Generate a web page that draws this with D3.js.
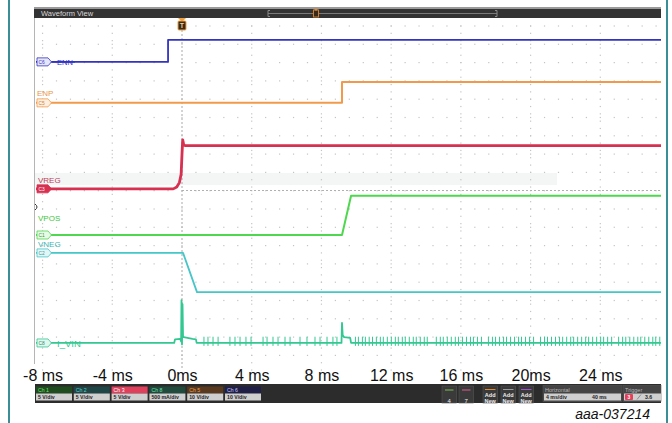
<!DOCTYPE html>
<html><head><meta charset="utf-8">
<script src="https://cdn.jsdelivr.net/npm/d3@7"></script>
<style>
body{margin:0;background:#fff}
svg{display:block}
text{font-family:"Liberation Sans",Arial,sans-serif}
</style>
</head><body>
<svg id="c" width="672" height="423"></svg>
<script>
// ---------- data ----------
const tickTimes  = [-8, -4, 0, 4, 8, 12, 16, 20, 24];
const tickLabels = ["-8 ms", "-4 ms", "0ms", "4 ms", "8 ms", "12 ms", "16 ms", "20ms", "24 ms"];

// trace positions in graticule divisions (0 = top grid row), time in ms
const ennT  = [-8.4, -0.8, -0.8, 27.5];
const ennV  = [0.98, 0.98, 0.38, 0.38];
const enpT  = [-8.4, 9.18, 9.18, 27.5];
const enpV  = [2.10, 2.10, 1.53, 1.53];
const vregT = [-8.4, -0.5, -0.3, -0.15, -0.05, 0.0, 0.04, 0.1, 0.2, 27.5];
const vregV = [4.45, 4.45, 4.40, 4.28, 4.05, 3.50, 3.11, 3.25, 3.27, 3.27];
const vposT = [-8.4, 9.18, 9.70, 27.5];
const vposV = [5.71, 5.71, 4.64, 4.64];
const vnegT = [-8.4, 0.06, 0.86, 27.5];
const vnegV = [6.20, 6.20, 7.27, 7.27];
const ivinT = [-8.4, -0.45, -0.40, -0.10, -0.05, -0.03, 0.00, 0.03, 0.06, 0.10, 0.60, 0.80, 0.84, 9.15, 9.18, 9.22, 9.30, 9.65, 9.70, 27.5];
const ivinV = [8.66, 8.66, 8.56, 8.55, 8.62, 7.49, 8.70, 7.60, 8.50, 8.50, 8.55, 8.56, 8.66, 8.66, 8.11, 8.45, 8.50, 8.52, 8.66, 8.66];
// switching spikes on I_VIN (ms)
const ivinSpikes = [1.26, 1.49, 1.78, 2.07, 2.75, 3.04, 3.33, 3.67, 3.96, 4.65, 4.88, 5.22, 5.51, 5.91, 6.20, 6.77, 7.17, 7.63, 7.92, 8.32, 8.66, 8.89,
  9.95, 10.12, 10.35, 10.52, 10.74, 10.93, 11.15, 11.38, 11.55, 11.78, 12.01, 12.24, 12.41, 12.64, 12.81, 13.04, 13.27, 13.44, 13.67, 13.90, 14.07,
  14.59, 14.82, 14.99, 15.22, 15.45, 15.68, 15.86, 16.09, 16.32, 16.55, 16.72, 16.95, 17.18, 17.58, 17.81, 17.99, 18.22, 18.45, 18.62, 18.85,
  19.08, 19.31, 19.48, 19.71, 19.94, 20.17, 20.57, 20.80, 20.97, 21.20, 21.43, 21.66, 21.84, 22.07, 22.30, 22.47, 22.70, 22.93, 23.16, 23.33,
  23.56, 23.79, 24.02, 24.19, 24.42, 24.65, 25.05, 25.28, 25.46, 25.69, 25.92, 26.15, 26.32, 26.55, 26.78, 27.01, 27.18, 27.41];

const chanNames  = ["ENN", "ENP", "VREG", "VPOS", "VNEG", "I_VIN"];
const chanIds    = ["C6", "C5", "C3", "C1", "C2", "C8"];
const chanColors = ["#3333c2", "#f29a4c", "#d83050", "#4fd84f", "#46c6c8", "#33c892"];

const barNames  = ["Ch 1", "Ch 2", "Ch 3", "Ch 8", "Ch 5", "Ch 6"];
const barScales = ["5 V/div", "5 V/div", "5 V/div", "500 mA/div", "10 V/div", "10 V/div"];
const barFills  = ["#1f4d1f", "#1f4646", "#e0405c", "#1f4a3c", "#5a3a1e", "#1f1f48"];
const barText   = ["#70e070", "#5ad0d0", "#ffffff", "#70e0b0", "#f0a050", "#c8c8ff"];

// ---------- layout ----------
const svg = d3.select("#c");
const L = 35, R = 661, T = 18, B = 372;
const x = d3.scaleLinear().domain([(L - 182) / 17.43, (R - 182) / 17.43]).range([L, R]);
const y = d3.scaleLinear().domain([0, 9.5]).range([26, 373.7]);

// teal frame lines
svg.append("rect").attr("x", 8).attr("y", 0).attr("width", 2).attr("height", 423).attr("fill", "#3a8f96");
svg.append("rect").attr("x", 666).attr("y", 0).attr("width", 2).attr("height", 423).attr("fill", "#3a8f96");

// header
svg.append("rect").attr("x", 34).attr("y", 7).attr("width", R - 34).attr("height", 2).attr("fill", "#9a9a9a");
svg.append("rect").attr("x", 34).attr("y", 9).attr("width", R - 34).attr("height", 9).attr("fill", "#333");
svg.append("text").attr("x", 41).attr("y", 16).attr("font-size", 7.5).attr("fill", "#d8d8d8").text("Waveform View");
svg.append("line").attr("x1", 268).attr("x2", 497).attr("y1", 13.5).attr("y2", 13.5).attr("stroke", "#7a7a7a").attr("stroke-width", 1.2);
svg.append("path").attr("d", "M270,10.5 H268 V16.5 H270 M495,10.5 H497 V16.5 H495").attr("fill", "none").attr("stroke", "#8a8a8a");
svg.append("rect").attr("x", 313.5).attr("y", 10).attr("width", 5).attr("height", 7).attr("fill", "#3a2a1a").attr("stroke", "#d08030");
svg.append("path").attr("d", "M314,9 L318,9 L316,11 Z").attr("fill", "#e08a30");

// panel left border
svg.append("line").attr("x1", 34.5).attr("x2", 34.5).attr("y1", 18).attr("y2", 364).attr("stroke", "#b5b5b5");

// faint band
svg.append("rect").attr("x", L).attr("y", 173).attr("width", 522).attr("height", 12).attr("fill", "#f4f5f5");

// graticule dots
const gridG = svg.append("g");
const rowDivs = d3.range(0, 19).map(k => k * 0.5);
const colStep = 0.8; // ms
const colTimes = d3.range(Math.ceil(x.domain()[0] / colStep), Math.floor(x.domain()[1] / colStep) + 1).map(k => k * colStep);
const dots = [];
rowDivs.forEach(r => colTimes.forEach(t => dots.push([x(t), y(r)])));
const majorTimes = tickTimes.filter(t => t !== 0);
majorTimes.forEach(t => d3.range(0, 19 * 2.5).forEach(k => { const yy = y(k * 0.2); if (yy < B) dots.push([x(t), yy]); }));
gridG.selectAll("rect").data(dots.filter(d => d[1] > T && d[1] < B)).join("rect")
  .attr("x", d => d[0] - 0.6).attr("y", d => d[1] - 0.6).attr("width", 1.2).attr("height", 1.2).attr("fill", "#c4c4c4");

// trigger dashed line + reference dashed line
svg.append("line").attr("x1", x(0)).attr("x2", x(0)).attr("y1", 30).attr("y2", 368)
  .attr("stroke", "#a8a8a8").attr("stroke-dasharray", "2,2");
svg.append("line").attr("x1", x(0)).attr("x2", R).attr("y1", 190.5).attr("y2", 190.5)
  .attr("stroke", "#b0b0b0").attr("stroke-dasharray", "2,2");

// traces
svg.append("clipPath").attr("id", "pc").append("rect").attr("x", 36).attr("y", T).attr("width", R - 36).attr("height", B - T);
const line = d3.line().x(d => x(d[0])).y(d => y(d[1]));
const traces = [[ennT, ennV], [enpT, enpV], [vregT, vregV], [vposT, vposV], [vnegT, vnegV], [ivinT, ivinV]];
const widths = [1.8, 2, 2.8, 2, 1.8, 1.8];
const tg = svg.append("g").attr("clip-path", "url(#pc)");
traces.forEach((tr, i) => {
  tg.append("path").datum(tr[0].map((t, j) => [t, tr[1][j]]))
    .attr("d", line).attr("fill", "none").attr("stroke", chanColors[i])
    .attr("stroke-width", widths[i]).attr("stroke-linejoin", "round");
});
tg.selectAll("line.sp").data(ivinSpikes).join("line").attr("class", "sp")
  .attr("x1", d => x(d)).attr("x2", d => x(d))
  .attr("y1", y(8.49)).attr("y2", y(8.74))
  .attr("stroke", chanColors[5]).attr("stroke-width", 1);

// channel markers and labels
const markerY = [ennV[0], enpV[0], vregV[0], vposV[0], vnegV[0], ivinV[0]];
const markerFill = ["#e6e6fb", "#fdeedd", "#d83050", "#e6fae6", "#e2f6f6", "#e0f7ee"];
const markerText = ["#3333c2", "#d08040", "#ffffff", "#30a030", "#30a0a0", "#209070"];
const mg = svg.append("g");
chanIds.forEach((c, i) => {
  const my = y(markerY[i]);
  mg.append("path").attr("d", `M37,${my - 4} H48 L51.5,${my} L48,${my + 4} H37 Z`)
    .attr("fill", markerFill[i]).attr("stroke", chanColors[i]).attr("stroke-width", 0.8);
  mg.append("text").attr("x", 41.5).attr("y", my + 1.7).attr("text-anchor", "middle").attr("font-size", 4.8)
    .attr("fill", markerText[i]).text(c);
});
const labelPos = [[57, 64.5, 7.5], [37, 95.5, 8], [38, 182.5, 8], [38, 220.5, 8], [38, 247, 8], [57, 346.5, 9.5]];
const labelFill = ["#3333c2", "#e8964c", "#c03c58", "#3ec83e", "#3cb4b4", "#33c892"];
chanNames.forEach((n, i) => {
  mg.append("text").attr("x", labelPos[i][0]).attr("y", labelPos[i][1]).attr("font-size", labelPos[i][2])
    .attr("fill", labelFill[i]).text(n);
});
// ENN line over its label, like the scope
mg.append("line").attr("x1", 52).attr("x2", 75).attr("y1", y(ennV[0])).attr("y2", y(ennV[0])).attr("stroke", chanColors[0]).attr("stroke-width", 1.6);
// trigger level mark
svg.append("path").attr("d", "M35,204 Q39,207 35,210").attr("fill", "none").attr("stroke", "#333").attr("stroke-width", 1);

// trigger T marker
svg.append("path").attr("d", `M${x(0) - 4},18 L${x(0) + 4},18 L${x(0)},22 Z`).attr("fill", "#f0a040");
svg.append("rect").attr("x", x(0) - 4).attr("y", 21).attr("width", 8).attr("height", 9).attr("rx", 1)
  .attr("fill", "#3a2a18").attr("stroke", "#f0a040");
svg.append("text").attr("x", x(0)).attr("y", 28.3).attr("text-anchor", "middle").attr("font-size", 7)
  .attr("font-weight", "bold").attr("fill", "#f4d090").text("T");

// x axis labels
const ax = svg.append("g").attr("transform", "translate(0,366)")
  .call(d3.axisBottom(x).tickValues(tickTimes).tickFormat((d, i) => tickLabels[i]).tickSize(0).tickPadding(3.6));
ax.select(".domain").remove();
ax.selectAll("text").attr("font-size", 16).attr("fill", "#111").attr("font-family", "'Liberation Sans',Arial,sans-serif");

// bottom status bar
const bb = svg.append("g");
bb.append("rect").attr("x", L).attr("y", 384).attr("width", R - L).attr("height", 19).attr("fill", "#2c2c2c");
barNames.forEach((n, i) => {
  const bx = 36 + i * 37.8;
  bb.append("rect").attr("x", bx).attr("y", 386.5).attr("width", 36).attr("height", 7).attr("fill", barFills[i]);
  bb.append("rect").attr("x", bx).attr("y", 393.5).attr("width", 36).attr("height", 7).attr("fill", "#cfcfcf");
  bb.append("text").attr("x", bx + 2).attr("y", 392.3).attr("font-size", 5.2).attr("fill", barText[i]).text(n);
  bb.append("text").attr("x", bx + 2).attr("y", 399.3).attr("font-size", 5.2).attr("font-weight", "bold").attr("fill", "#222").text(barScales[i]);
});
const btnX = [442, 459];
const btnCol = ["#7ac050", "#e05a90"];
const btnLab = ["4", "7"];
btnX.forEach((bx, i) => {
  bb.append("rect").attr("x", bx).attr("y", 386).attr("width", 14.5).attr("height", 17).attr("fill", "#3a3a3a").attr("stroke", "#555").attr("stroke-width", 0.6);
  bb.append("line").attr("x1", bx + 3).attr("x2", bx + 11.5).attr("y1", 390).attr("y2", 390).attr("stroke", btnCol[i]).attr("stroke-width", 1);
  bb.append("text").attr("x", bx + 7.2).attr("y", 403).attr("text-anchor", "middle").attr("font-size", 6).attr("fill", "#eee").text(btnLab[i]);
});
const addX = [483, 501, 519];
const addCol = ["#e08a30", "#9a9a9a", "#a050d0"];
addX.forEach((bx, i) => {
  bb.append("rect").attr("x", bx).attr("y", 386).attr("width", 14.5).attr("height", 17).attr("fill", "#3a3a3a").attr("stroke", "#555").attr("stroke-width", 0.6);
  bb.append("line").attr("x1", bx + 2).attr("x2", bx + 12.5).attr("y1", 389.5).attr("y2", 389.5).attr("stroke", addCol[i]).attr("stroke-width", 1);
  bb.append("text").attr("x", bx + 7.2).attr("y", 396.5).attr("text-anchor", "middle").attr("font-size", 5.5).attr("font-weight", "bold").attr("fill", "#eee").text("Add");
  bb.append("text").attr("x", bx + 7.2).attr("y", 403).attr("text-anchor", "middle").attr("font-size", 5.5).attr("font-weight", "bold").attr("fill", "#eee").text("New");
});
// horizontal panel
bb.append("rect").attr("x", 543).attr("y", 385.5).attr("width", 79).attr("height", 16).attr("fill", "#444").attr("stroke", "#555").attr("stroke-width", 0.6);
bb.append("text").attr("x", 545).attr("y", 391.5).attr("font-size", 5.5).attr("fill", "#b8b8b8").text("Horizontal");
bb.append("rect").attr("x", 544).attr("y", 393.5).attr("width", 77).attr("height", 7).attr("fill", "#cfcfcf");
bb.append("text").attr("x", 546).attr("y", 399.3).attr("font-size", 5.2).attr("font-weight", "bold").attr("fill", "#222").text("4 ms/div");
bb.append("text").attr("x", 592).attr("y", 399.3).attr("font-size", 5.2).attr("font-weight", "bold").attr("fill", "#222").text("40 ms");
// trigger panel
bb.append("rect").attr("x", 623).attr("y", 385.5).attr("width", 38).attr("height", 16).attr("fill", "#444").attr("stroke", "#555").attr("stroke-width", 0.6);
bb.append("text").attr("x", 625).attr("y", 391.5).attr("font-size", 5.5).attr("fill", "#b8b8b8").text("Trigger");
bb.append("rect").attr("x", 624).attr("y", 393.5).attr("width", 37).attr("height", 7).attr("fill", "#cfcfcf");
bb.append("rect").attr("x", 625).attr("y", 394).attr("width", 8).attr("height", 6).attr("rx", 1).attr("fill", "#e0405c");
bb.append("text").attr("x", 629).attr("y", 399.2).attr("text-anchor", "middle").attr("font-size", 5).attr("font-weight", "bold").attr("fill", "#fff").text("3");
bb.append("path").attr("d", "M637,399.5 L641,394.5").attr("stroke", "#777").attr("stroke-width", 0.8);
bb.append("text").attr("x", 645).attr("y", 399.3).attr("font-size", 5.2).attr("font-weight", "bold").attr("fill", "#222").text("3.6");

// figure id
svg.append("text").attr("x", 650).attr("y", 418.5).attr("text-anchor", "end").attr("font-size", 14)
  .attr("font-style", "italic").attr("fill", "#111").text("aaa-037214");
</script>
</body></html>
